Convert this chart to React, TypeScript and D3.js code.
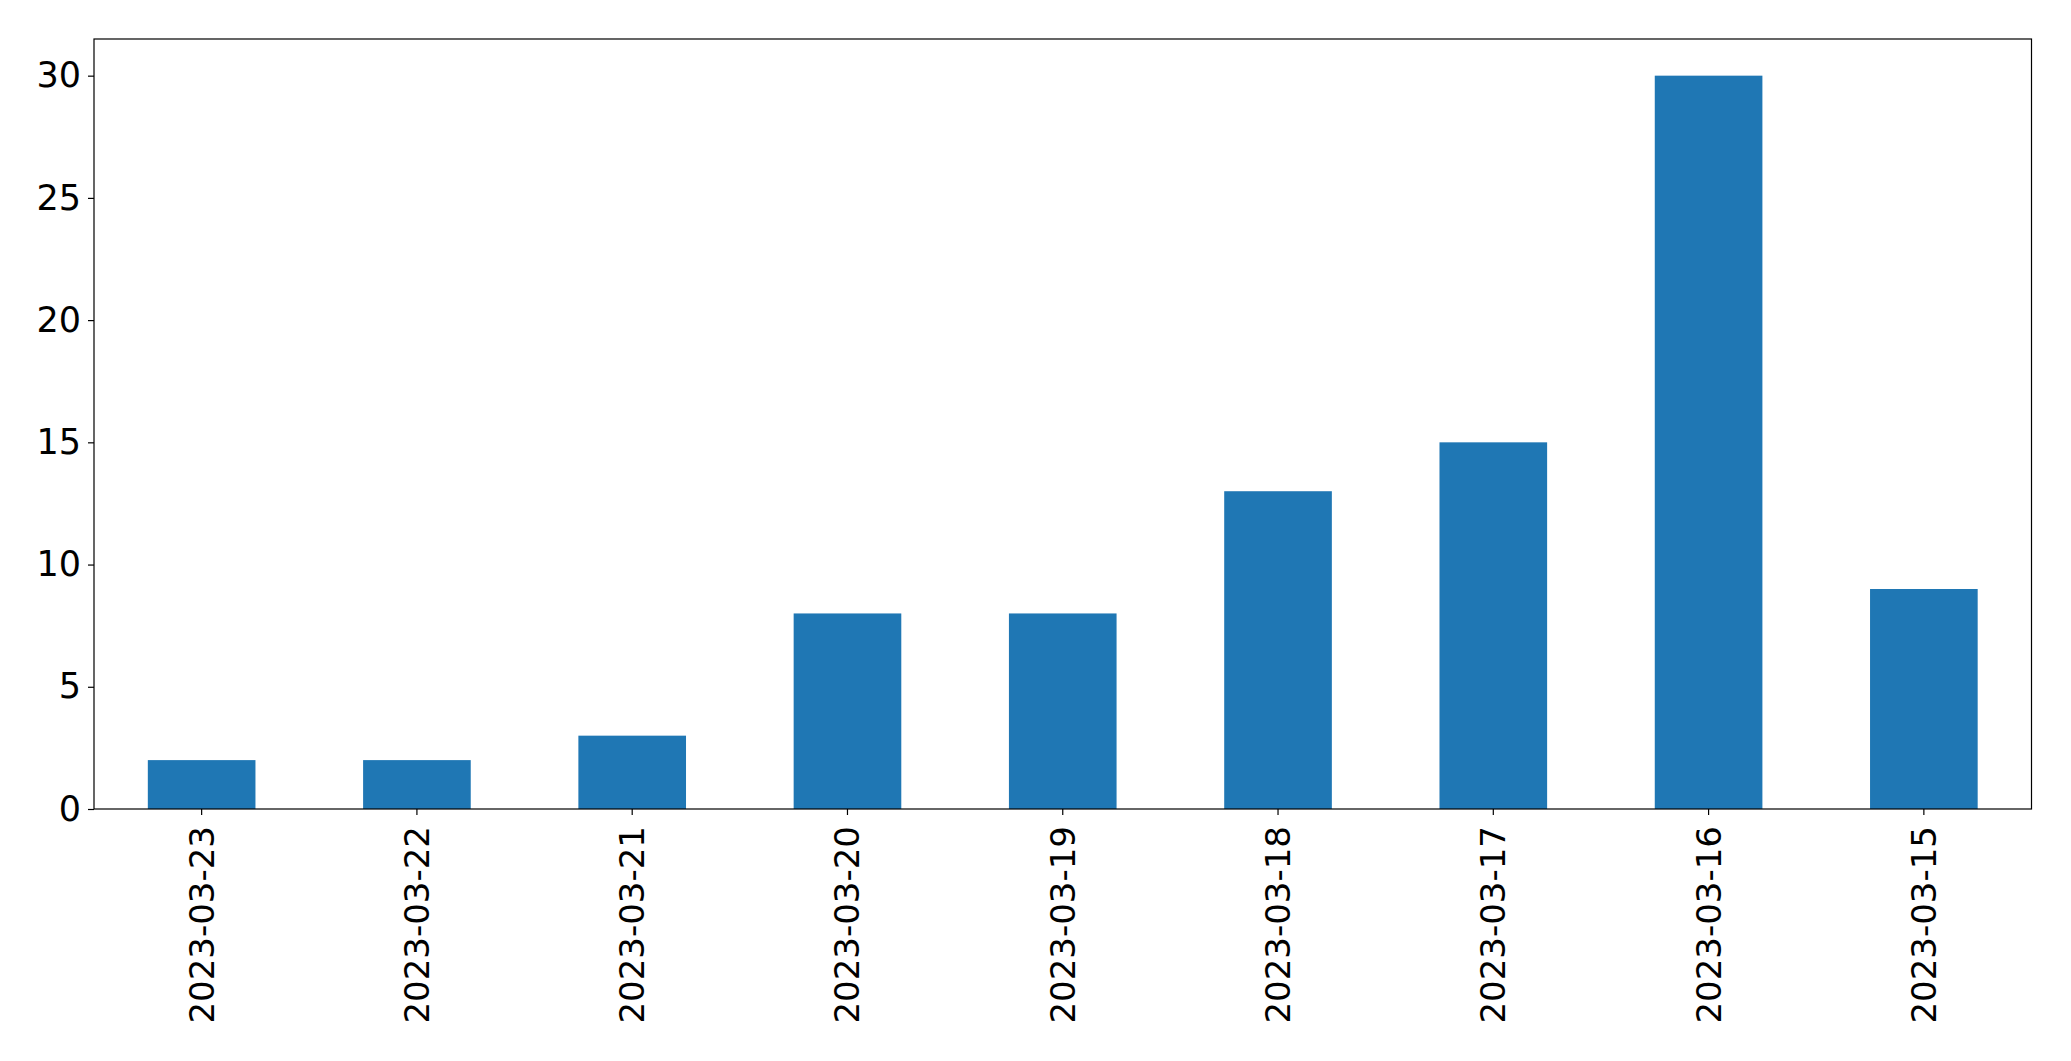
import { useEffect, useRef } from 'react';
import * as d3 from 'd3';

const dates = [
  '2023-03-23', '2023-03-22', '2023-03-21', '2023-03-20', '2023-03-19',
  '2023-03-18', '2023-03-17', '2023-03-16', '2023-03-15',
];
const counts = [2, 2, 3, 8, 8, 13, 15, 30, 9];
const yTicks = [0, 5, 10, 15, 20, 25, 30];

const WIDTH = 2071;
const HEIGHT = 1061;
const FONT = '"DejaVu Sans", sans-serif';

export default function App() {
  const svgRef = useRef<SVGSVGElement>(null);

  useEffect(() => {
    if (!svgRef.current) return;
    document.body.style.margin = '0';

    const svg = d3.select(svgRef.current);
    svg.selectAll('*').remove();

    // plot area (matches matplotlib axes box)
    const margin = { top: 39, right: 39.5, bottom: 252, left: 94 };
    const innerWidth = WIDTH - margin.left - margin.right;
    const innerHeight = HEIGHT - margin.top - margin.bottom;

    const g = svg.append('g')
      .attr('transform', `translate(${margin.left},${margin.top})`);

    const xScale = d3.scaleBand()
      .domain(dates)
      .range([0, innerWidth])
      .paddingInner(0.5)
      .paddingOuter(0.25);

    const yMax = (d3.max(counts) || 0) * 1.05;
    const yScale = d3.scaleLinear()
      .domain([0, yMax])
      .range([innerHeight, 0]);

    // bars
    g.selectAll('.bar')
      .data(dates)
      .enter()
      .append('rect')
      .attr('class', 'bar')
      .attr('x', d => xScale(d) as number)
      .attr('width', xScale.bandwidth())
      .attr('y', (_, i) => yScale(counts[i]))
      .attr('height', (_, i) => innerHeight - yScale(counts[i]))
      .attr('fill', '#1f77b4');

    // y axis
    const yAxis = g.append('g')
      .call(d3.axisLeft(yScale).tickValues(yTicks).tickSize(6).tickPadding(7).tickFormat(d => `${d}`));
    yAxis.select('.domain').remove();
    yAxis.selectAll('text')
      .style('font-family', FONT)
      .style('font-size', '35px')
      .attr('fill', '#000');
    yAxis.selectAll('.tick line').attr('stroke', '#000').attr('stroke-width', 1.2);

    // x axis
    const xAxis = g.append('g')
      .attr('transform', `translate(0,${innerHeight})`)
      .call(d3.axisBottom(xScale).tickSize(6).tickPadding(0));
    xAxis.select('.domain').remove();
    xAxis.selectAll('.tick line').attr('stroke', '#000').attr('stroke-width', 1.2);
    xAxis.selectAll('text')
      .style('font-family', FONT)
      .style('font-size', '34px')
      .attr('fill', '#000')
      .attr('text-anchor', 'end')
      .attr('dy', null)
      .attr('y', null)
      .attr('transform', 'translate(0,17) rotate(-90)')
      .attr('dominant-baseline', 'central');

    // frame
    g.append('rect')
      .attr('x', 0)
      .attr('y', 0)
      .attr('width', innerWidth)
      .attr('height', innerHeight)
      .attr('fill', 'none')
      .attr('stroke', '#000')
      .attr('stroke-width', 1.2);
  }, []);

  return (
    <svg
      ref={svgRef}
      width={WIDTH}
      height={HEIGHT}
      style={{ position: 'absolute', left: 0, top: 0, background: '#fff' }}
    />
  );
}
